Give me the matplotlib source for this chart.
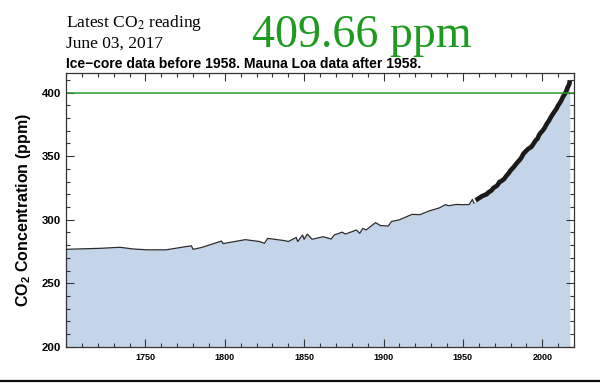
import matplotlib
matplotlib.use('Agg')
import matplotlib.pyplot as plt
from matplotlib.lines import Line2D
from matplotlib.ticker import MultipleLocator, FixedLocator

plt.rcParams['font.family'] = 'Liberation Sans'
plt.rcParams['mathtext.fontset'] = 'custom'
plt.rcParams['mathtext.rm'] = 'Liberation Sans:bold'
plt.rcParams['mathtext.default'] = 'rm'

# ice-core record
ice_years = [1700, 1722, 1734, 1742, 1751, 1763, 1779, 1780, 1785, 1798, 1799,
             1813, 1822, 1825, 1827, 1838, 1840, 1845, 1846, 1849, 1850, 1852,
             1855, 1862, 1867, 1869, 1874, 1876, 1883, 1885, 1887, 1889, 1895,
             1898, 1903, 1905, 1910, 1918, 1923, 1929, 1935, 1939, 1941, 1946,
             1950, 1954, 1956, 1957]
ice_ppm = [276.7, 277.5, 278.3, 277.0, 276.3, 276.3, 279.5, 276.7, 278.0, 283.2, 281.2,
           284.3, 282.8, 281.4, 285.3, 283.5, 282.8, 286.0, 282.8, 288.0, 284.6, 288.7,
           284.6, 286.6, 284.8, 288.0, 290.2, 288.7, 291.9, 289.3, 293.2, 291.9, 297.7,
           295.4, 295.0, 298.6, 299.9, 304.2, 304.0, 307.0, 309.2, 311.8, 311.0, 312.0,
           311.8, 312.0, 316.0, 313.0]

# Mauna Loa annual means
mlo_years = [1958, 1959, 1960, 1961, 1962, 1963, 1964, 1965, 1966, 1967, 1968, 1969,
             1970, 1971, 1972, 1973, 1974, 1975, 1976, 1977, 1978, 1979, 1980, 1981,
             1982, 1983, 1984, 1985, 1986, 1987, 1988, 1989, 1990, 1991, 1992, 1993,
             1994, 1995, 1996, 1997, 1998, 1999, 2000, 2001, 2002, 2003, 2004, 2005,
             2006, 2007, 2008, 2009, 2010, 2011, 2012, 2013, 2014, 2015, 2016, 2017,
             2017.4]
mlo_ppm = [315.3, 316.0, 316.9, 317.6, 318.5, 319.0, 319.6, 320.0, 321.4, 322.2, 323.0, 324.6,
           325.7, 326.3, 327.5, 329.7, 330.2, 331.1, 332.1, 333.8, 335.4, 336.8, 338.7, 340.1,
           341.4, 343.0, 344.6, 346.0, 347.4, 349.2, 351.6, 353.1, 354.4, 355.6, 356.4, 357.1,
           358.8, 360.8, 362.6, 363.7, 366.7, 368.4, 369.7, 371.3, 373.5, 375.8, 377.5, 379.8,
           381.9, 383.8, 385.6, 387.4, 389.9, 391.7, 393.9, 396.5, 398.6, 400.8, 404.2, 406.5,
           409.7]

x_labels = [1750, 1800, 1850, 1900, 1950, 2000]
latest = '409.66 ppm'
latest_date = 'June 03, 2017'

fig = plt.figure(figsize=(6, 3.83), dpi=100)
ax = fig.add_axes([0.11, 0.0945, 0.8467, 0.7145])

all_years = ice_years + mlo_years
all_ppm = ice_ppm + mlo_ppm
ax.fill_between(all_years, all_ppm, 200, color='#c4d5ea', lw=0)
ax.plot(ice_years, ice_ppm, color='#2b2b2b', lw=0.9)
ax.plot(mlo_years, mlo_ppm, color='#1a1a1a', lw=3.3, solid_capstyle='butt')
ax.axhline(400, color='#2a9a2a', lw=1.1)

ax.set_xlim(1700, 2020)
ax.set_ylim(200, 415.3)
ax.xaxis.set_major_locator(FixedLocator(x_labels))
ax.xaxis.set_minor_locator(MultipleLocator(10))
ax.yaxis.set_major_locator(MultipleLocator(50))
ax.yaxis.set_minor_locator(MultipleLocator(10))
ax.tick_params(which='both', direction='in', top=True, right=True, color='#333333', width=0.8)
ax.tick_params(which='major', length=6)
ax.tick_params(which='minor', length=3)
ax.tick_params(axis='x', labelsize=6.5, pad=4.5)
ax.tick_params(axis='y', labelsize=8.2, pad=3.5)
for lab in ax.get_xticklabels() + ax.get_yticklabels():
    lab.set_fontweight('bold')
for s in ax.spines.values():
    s.set_color('#333333')
    s.set_linewidth(0.9)

fig.text(0.04, 0.452, 'CO$_2$ Concentration (ppm)', rotation=90, ha='center', va='center',
         fontsize=11.5, fontweight='bold')

fig.text(0.11, 0.9287, 'Latest CO$_2$ reading', family='Liberation Serif', fontsize=12.5,
         math_fontfamily='stix')
fig.text(0.11, 0.8755, latest_date, family='Liberation Serif', fontsize=12.5)
fig.text(0.42, 0.878, latest, family='Liberation Serif', fontsize=33, color='#1e9a1e')
fig.text(0.11, 0.8233, 'Ice\u2212core data before 1958. Mauna Loa data after 1958.',
         fontsize=10, fontweight='bold')

fig.add_artist(Line2D([0, 1], [0.0052, 0.0052], transform=fig.transFigure,
                      color='#111111', lw=1.6))

fig.savefig('out.png', dpi=100)
